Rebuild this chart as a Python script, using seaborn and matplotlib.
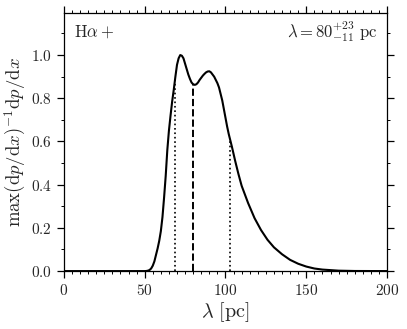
import numpy as np
import pandas as pd
import matplotlib
matplotlib.use('Agg')
import matplotlib.pyplot as plt
import seaborn as sns
from matplotlib.ticker import MultipleLocator

# values
lam = [0, 50, 51, 52, 53, 54, 55, 56, 57, 58, 59, 60, 61, 62, 63, 64, 65,
       66, 67, 68, 69, 70, 71, 72, 73, 74, 75, 76, 77, 78, 79, 80, 81, 82,
       83, 84, 85, 86, 87, 88, 89, 90, 91, 92, 93, 94, 95, 96, 97, 98, 99,
       100, 101, 102, 104, 106, 108, 110, 114, 118, 122, 126, 130, 135,
       140, 145, 150, 155, 160, 170, 180, 200]
dpdx = [0.0, 0.0, 0.0005, 0.002, 0.005, 0.012, 0.025, 0.045, 0.075, 0.105,
        0.14, 0.185, 0.25, 0.34, 0.44, 0.56, 0.65, 0.72, 0.785, 0.84, 0.9,
        0.955, 0.985, 1.0, 0.997, 0.985, 0.96, 0.935, 0.91, 0.89, 0.873,
        0.865, 0.862, 0.865, 0.873, 0.885, 0.895, 0.905, 0.913, 0.92,
        0.924, 0.925, 0.92, 0.91, 0.9, 0.885, 0.87, 0.85, 0.82, 0.79, 0.75,
        0.71, 0.67, 0.635, 0.575, 0.51, 0.45, 0.395, 0.315, 0.245, 0.19,
        0.145, 0.11, 0.078, 0.052, 0.034, 0.021, 0.012, 0.007, 0.002,
        0.0005, 0.0]
median = 80
lo = 69
hi = 103

df = pd.DataFrame({'lam': lam, 'dpdx': dpdx})

sns.set_style('ticks')
plt.rcParams['font.family'] = 'serif'
plt.rcParams['font.serif'] = ['cmr10', 'DejaVu Serif']
plt.rcParams['mathtext.fontset'] = 'cm'
plt.rcParams['axes.formatter.use_mathtext'] = True

fig = plt.figure(figsize=(4.07, 3.29), dpi=100)
ax = fig.add_axes([0.157, 0.176, 0.794, 0.784])

sns.lineplot(data=df, x='lam', y='dpdx', color='black', lw=1.5, ax=ax)

# median and 1-sigma range, drawn up to the curve
for v, ls, lw in [(lo, ':', 1.2), (median, '--', 1.4), (hi, ':', 1.2)]:
    ax.vlines(v, 0, np.interp(v, lam, dpdx), colors='black', linestyles=ls, lw=lw)

ax.set_xlim(0, 200)
ax.set_ylim(0, 1.194)
ax.xaxis.set_major_locator(MultipleLocator(50))
ax.xaxis.set_minor_locator(MultipleLocator(5))
ax.yaxis.set_major_locator(MultipleLocator(0.2))
ax.yaxis.set_minor_locator(MultipleLocator(0.1))
ax.yaxis.set_major_formatter(lambda v, p: r'$%.1f$' % v)
ax.xaxis.set_major_formatter(lambda v, p: r'$%d$' % v)
ax.tick_params(which='both', direction='out', top=True, right=True,
               labelsize=11, color='black')
ax.tick_params(which='major', length=5, width=0.9)
ax.tick_params(which='minor', length=2.5, width=0.7)
for s in ax.spines.values():
    s.set_linewidth(0.9)
    s.set_color('black')

ax.set_xlabel(r'$\lambda\ [\mathrm{pc}]$', fontsize=14.5, labelpad=2)
ax.set_ylabel(r'$\max(\mathrm{d}p/\mathrm{d}x)^{-1}\mathrm{d}p/\mathrm{d}x$',
              fontsize=13.5)
ax.yaxis.set_label_coords(-0.112, 0.5)

ax.text(0.03, 0.96, r'$\mathrm{H}\alpha+$', transform=ax.transAxes,
        ha='left', va='top', fontsize=12)
ax.text(0.972, 0.975, r'$\lambda = 80^{+23}_{-11}\ \mathrm{pc}$',
        transform=ax.transAxes, ha='right', va='top', fontsize=12)

fig.savefig('out.png', dpi=100)
